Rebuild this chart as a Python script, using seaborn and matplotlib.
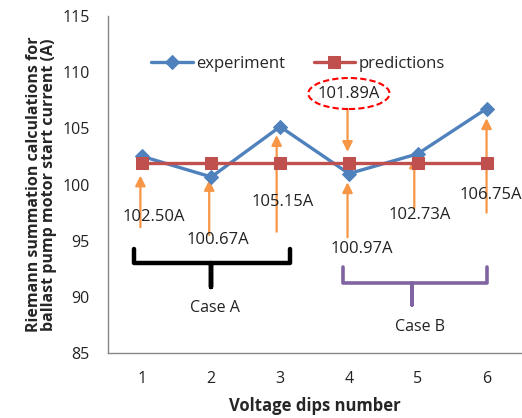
import numpy as np
import pandas as pd
import matplotlib
matplotlib.use("Agg")
import matplotlib.pyplot as plt
from matplotlib.patches import Ellipse
import seaborn as sns

# Data
dips = [1, 2, 3, 4, 5, 6]
experiment = [102.50, 100.67, 105.15, 100.97, 102.73, 106.75]
predictions = [101.89, 101.89, 101.89, 101.89, 101.89, 101.89]
y_ticks = [85, 90, 95, 100, 105, 110, 115]

sns.set_style("white")
plt.rcParams["font.family"] = ["Open Sans", "DejaVu Sans"]

BLUE = "#4F81BD"
RED = "#C0504D"
ORANGE = "#F79646"
PURPLE = "#8064A2"
GREY = "#868686"
TXT = "#222222"

fig = plt.figure(figsize=(5.22, 4.18), dpi=100)
ax = fig.add_axes([0.207, 0.1555, 0.791, 0.8062])

df = pd.DataFrame({"dip": dips, "experiment": experiment, "predictions": predictions})
sns.lineplot(data=df, x="dip", y="experiment", ax=ax, color=BLUE, lw=2.4,
             marker="D", markersize=7.5, markeredgecolor=BLUE, label="experiment")
sns.lineplot(data=df, x="dip", y="predictions", ax=ax, color=RED, lw=2.4,
             marker="s", markersize=9, markeredgecolor=RED, label="predictions")

ax.set_xlim(0.5, 6.5)
ax.set_ylim(85, 115)
ax.set_xticks(dips)
ax.set_yticks(y_ticks)
ax.tick_params(axis="both", length=0, labelsize=11.5, colors=TXT)
ax.tick_params(axis="y", pad=13)
ax.tick_params(axis="x", pad=13)
for s in ("top", "right"):
    ax.spines[s].set_visible(False)
for s in ("left", "bottom"):
    ax.spines[s].set_color(GREY)
    ax.spines[s].set_linewidth(1.0)

ax.set_xlabel("Voltage dips number", fontsize=12, fontweight="bold", labelpad=7)
ax.set_ylabel("Riemann summation calculations for\nballast pump motor start current (A)",
              fontsize=11.5, fontweight="bold", labelpad=4, linespacing=0.95)

ax.legend(loc="upper center", bbox_to_anchor=(0.46, 0.925), ncol=2, frameon=False,
          fontsize=12, handlelength=2.5, columnspacing=1.7, handletextpad=0.2)

# Value call-outs: arrow (tail y, tip y, x) and label position
arrow_x = [0.97, 1.97, 2.95, 3.98, 4.95, 6.0]
arrow_tail = [96.2, 95.5, 95.8, 95.3, 97.9, 97.5]
arrow_tip = [100.8, 100.4, 104.4, 100.2, 102.4, 105.9]
label_xy = [(1.17, 97.1), (2.10, 95.05), (3.03, 98.4), (4.18, 94.3), (5.03, 97.3), (6.06, 99.06)]

for xa, yt, yh, (lx, ly), v in zip(arrow_x, arrow_tail, arrow_tip, label_xy, experiment):
    ax.annotate("", xy=(xa, yh), xytext=(xa, yt),
                arrowprops=dict(arrowstyle="-|>,head_length=0.6,head_width=0.3",
                                color=ORANGE, lw=1.6, shrinkA=0, shrinkB=0), zorder=1)
    ax.text(lx, ly, f"{v:.2f}A", ha="center", va="center", fontsize=12,
            color=TXT, zorder=5, clip_on=False)

# Predicted value call-out with dashed ellipse
ax.annotate("", xy=(3.98, 102.9), xytext=(3.98, 106.7),
            arrowprops=dict(arrowstyle="-|>,head_length=0.6,head_width=0.3",
                            color=ORANGE, lw=1.6, shrinkA=0, shrinkB=0), zorder=1)
ax.add_patch(Ellipse((4.0, 108.1), 1.18, 2.76, fill=False, edgecolor="red",
                     lw=1.5, ls=(0, (3, 1.5))))
ax.text(4.0, 108.1, f"{predictions[3]:.2f}A", ha="center", va="center",
        fontsize=12, color=TXT)


def brace(x0, x1, xm, ytop, ymid, ybot, color, lw):
    xs = [x0, x0, xm, xm, xm, x1, x1]
    ys = [ytop, ymid, ymid, ybot, ymid, ymid, ytop]
    ax.plot(xs, ys, color=color, lw=lw, solid_joinstyle="round",
            solid_capstyle="round", clip_on=False)


brace(0.88, 3.14, 2.0, 94.3, 93.0, 90.9, "black", 3.2)
ax.text(2.05, 89.0, "Case A", ha="center", va="center", fontsize=11.5, color=TXT)
brace(3.91, 6.0, 4.92, 92.65, 91.2, 89.3, PURPLE, 2.6)
ax.text(5.03, 87.3, "Case B", ha="center", va="center", fontsize=11.5, color=TXT)

fig.savefig("out.png", dpi=100)
